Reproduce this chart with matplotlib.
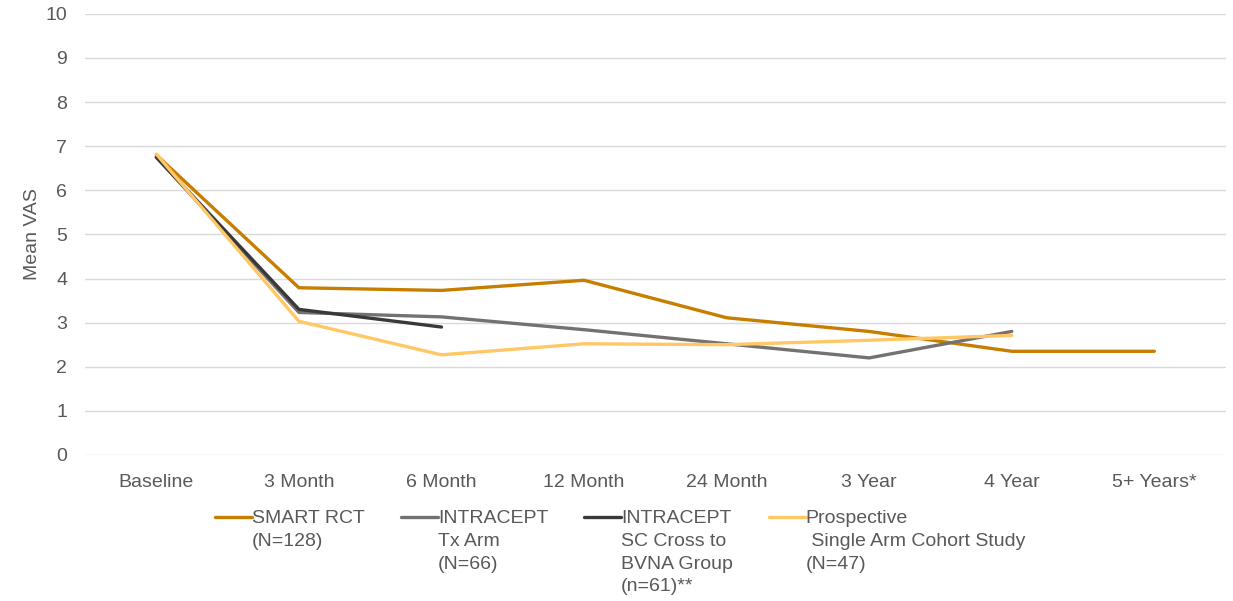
import matplotlib.pyplot as plt

plt.rcParams["font.family"] = ["Liberation Sans", "DejaVu Sans"]

timepoints = ["Baseline", "3 Month", "6 Month", "12 Month", "24 Month",
              "3 Year", "4 Year", "5+ Years*"]

smart_rct = [6.8, 3.79, 3.73, 3.96, 3.11, 2.8, 2.35, 2.35]
intracept_tx = [6.75, 3.23, 3.13, 2.84, 2.52, 2.2, 2.8]
intracept_sc = [6.75, 3.3, 2.9]
prospective = [6.82, 3.03, 2.27, 2.52, 2.5, 2.6, 2.71]

series = [
    ("SMART RCT\n(N=128)", smart_rct, "#C77E00"),
    ("INTRACEPT\nTx Arm\n(N=66)", intracept_tx, "#767171"),
    ("INTRACEPT\nSC Cross to\nBVNA Group\n(n=61)**", intracept_sc, "#3A3838"),
    ("Prospective\n Single Arm Cohort Study\n(N=47)", prospective, "#FFC766"),
]

fig, ax = plt.subplots(figsize=(12.33, 6.01), dpi=100)
fig.subplots_adjust(left=0.069, right=0.994, top=0.977, bottom=0.243)

x = list(range(len(timepoints)))
for label, vals, color in series:
    ax.plot(x[:len(vals)], vals, color=color, lw=2.4, label=label,
            solid_capstyle="round", solid_joinstyle="round")

ax.set_xlim(-0.5, len(timepoints) - 0.5)
ax.set_ylim(0, 10)
ax.set_yticks(range(0, 11))
ax.set_xticks(x)
ax.set_xticklabels(timepoints)
ax.tick_params(length=0, labelsize=14, labelcolor="#595959")
ax.tick_params(axis="x", pad=14)
ax.tick_params(axis="y", pad=13)
ax.grid(axis="y", color="#D9D9D9", lw=1)
ax.set_axisbelow(True)
for s in ax.spines.values():
    s.set_visible(False)
ax.set_ylabel("Mean VAS", fontsize=14, color="#595959", labelpad=3)

leg = fig.legend(loc="upper left", bbox_to_anchor=(0.1744, 0.1517), ncol=4,
                 frameon=False, fontsize=14, handlelength=1.9,
                 handletextpad=0.0, columnspacing=1.85, borderpad=0,
                 borderaxespad=0)
for t in leg.get_texts():
    t.set_color("#595959")
    t.set_linespacing(1.45)
# keep each handle next to the first line of its label, and columns top-aligned
leg._legend_handle_box.align = "top"
for col in leg._legend_handle_box.get_children():
    for row in col.get_children():
        row.align = "top"

fig.savefig("out.png", dpi=100)
